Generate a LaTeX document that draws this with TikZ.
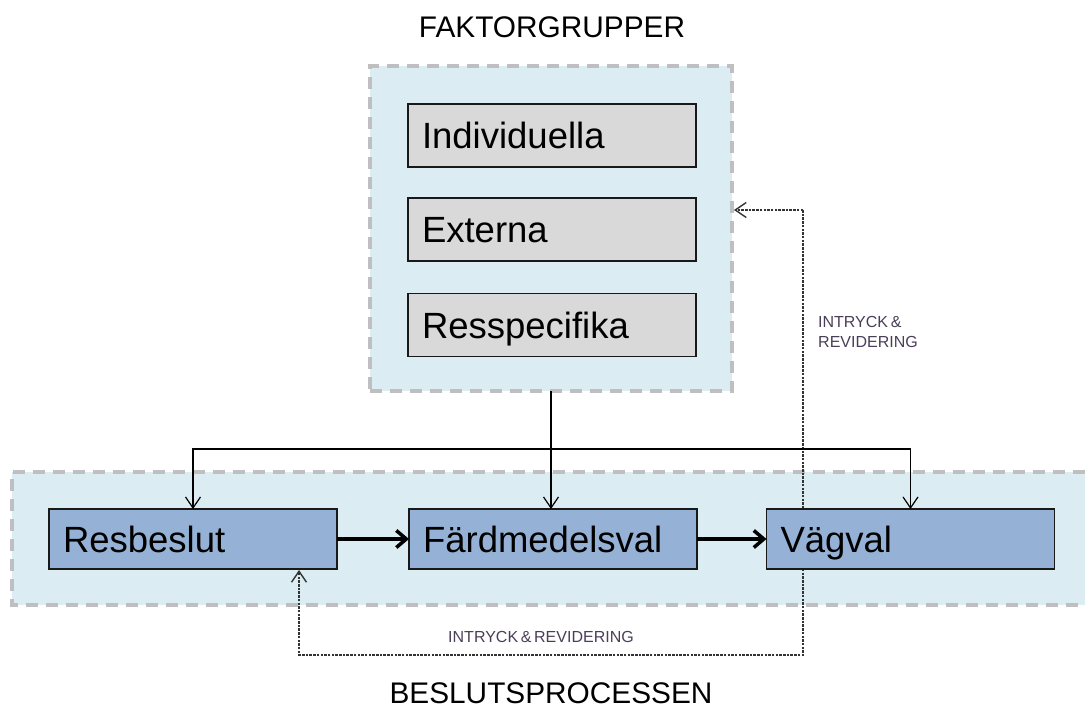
\documentclass[tikz,border=0pt]{standalone}
\usepackage{fontspec}
\setmainfont{Liberation Sans}
\usetikzlibrary{arrows.meta,backgrounds}

\definecolor{panelfill}{HTML}{DBEDF3}
\definecolor{panelline}{HTML}{BFBFBF}
\definecolor{factorfill}{HTML}{D9D9D9}
\definecolor{stepfill}{HTML}{95B2D6}
\definecolor{feedback}{HTML}{333333}
\definecolor{notecol}{HTML}{4A3F58}

\begin{document}
\begin{tikzpicture}[x=1pt,y=-1pt,
  panelborder/.style={draw=panelline, line width=4pt, dash pattern=on 12pt off 8pt},
  panel/.style={fill=panelfill, panelborder, outer sep=0pt, inner sep=0pt},
  factorbox/.style={draw=black!90, line width=1.3pt, fill=factorfill,
    text width=260pt, inner xsep=14pt, inner ysep=0pt, minimum height=63pt,
    align=left, text height=26pt, text depth=0pt,
    font=\fontsize{36.5}{40}\selectfont, outer sep=0pt},
  stepbox/.style={factorbox, fill=stepfill, minimum height=60pt},
  conn/.style={line width=1.2pt, -{Straight Barb[length=11pt,width=15pt]}},
  flow/.style={line width=3.5pt, -{Straight Barb[length=10pt,width=17pt]}},
  fb/.style={draw=feedback, line width=1.4pt, dash pattern=on 2.5pt off 1.2pt},
  fbarrow/.style={fb, -{Straight Barb[length=11pt,width=15pt]}},
  title/.style={font=\fontsize{29.8}{34}\selectfont, anchor=base, inner sep=0pt},
  note/.style={font=\fontsize{16}{20}\selectfont, text=notecol, inner sep=0pt}
]
\useasboundingbox (0,0) rectangle (1085,709);

% headings
\node[title] (ftitle) at (552,38) {FAKTORGRUPPER};
\node[title] (btitle) at (551,703) {BESLUTSPROCESSEN};

% factor group panel and its boxes
\node[panel, minimum width=362pt, minimum height=325pt] (faktor) at (551,228.5) {};
\node[factorbox] (indiv) at (552,135.5) {Individuella};
\node[factorbox] (extern) at (552,229.5) {Externa};
\node[factorbox] (resspec) at (552,325) {Resspecifika};

% decision steps
\node[stepbox] (resbeslut) at (193,539) {Resbeslut};
\node[stepbox] (faerd) at (553,539) {Färdmedelsval};
\node[stepbox] (vagval) at (910.5,539) {Vägval};

% decision process panel (open to the right) and the feedback loop,
% both kept beneath the step boxes
\coordinate (fbtop) at (803,210);
\coordinate (fbbot) at (299,655);
\begin{scope}[on background layer]
  \node[fill=panelfill, inner sep=0pt, outer sep=0pt,
        minimum width=1073pt, minimum height=133pt] (procpanel) at (548.5,538.5) {};
  \draw[panelborder] (procpanel.north east) -- (procpanel.north west)
        -- (procpanel.south west) -- (procpanel.south east);
  \draw[fbarrow] (fbtop) -- ([xshift=2pt]faktor.east |- fbtop);
  \draw[fbarrow] (fbtop) -- (fbtop |- fbbot) -- (fbbot) -- ([yshift=-1pt]fbbot |- resbeslut.south);
\end{scope}

\node[note, anchor=base] (fbnote) at (541,642) {INTRYCK\,\&\,REVIDERING};
\node[note, anchor=north west, align=left] (fbnote2) at (818,316.5) {INTRYCK\,\&\\REVIDERING};

% influence of the factor groups on each step
\coordinate (bus) at (552,449);
\draw[conn] (faktor.south) -- (faktor.south |- faerd.north);
\draw[conn] (bus) -| (resbeslut.north);
\draw[conn] (bus) -| (vagval.north);

% sequence of decisions
\draw[flow] (resbeslut.east) -- (faerd.west);
\draw[flow] (faerd.east) -- (vagval.west);
\end{tikzpicture}
\end{document}
